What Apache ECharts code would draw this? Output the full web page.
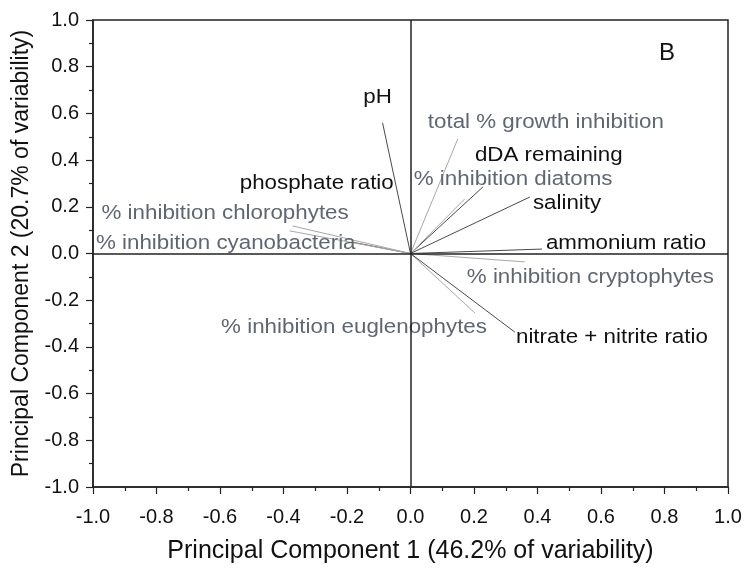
<!DOCTYPE html>
<html>
<head>
<meta charset="utf-8">
<script src="https://cdn.jsdelivr.net/npm/echarts@6/dist/echarts.min.js"></script>
<style>
  html, body { margin: 0; padding: 0; background: #fff; }
  #chart { width: 746px; height: 570px; }
</style>
</head>
<body>
<div id="chart"></div>
<script>
// PCA loading vectors: variable names and their loadings on PC1 / PC2
const variables = [
  'pH',
  'total % growth inhibition',
  'dDA remaining',
  '% inhibition diatoms',
  'salinity',
  'phosphate ratio',
  '% inhibition chlorophytes',
  '% inhibition cyanobacteria',
  'ammonium ratio',
  '% inhibition cryptophytes',
  '% inhibition euglenophytes',
  'nitrate + nitrite ratio'
];
const pc1 = [-0.088, 0.149, 0.228, 0.171, 0.376, -0.185, -0.371, -0.381, 0.414, 0.360, 0.203, 0.329];
const pc2 = [0.560, 0.491, 0.285, 0.234, 0.242, 0.049, 0.118, 0.097, 0.019, -0.036, -0.255, -0.337];
// 'env' = environmental variable (black), 'inh' = inhibition response (grey)
const kind = ['env', 'inh', 'env', 'inh', 'env', 'env', 'inh', 'inh', 'env', 'inh', 'inh', 'env'];

const axisTicks = [-1.0, -0.8, -0.6, -0.4, -0.2, 0.0, 0.2, 0.4, 0.6, 0.8, 1.0];
const xTitle = 'Principal Component 1 (46.2% of variability)';
const yTitle = 'Principal Component 2 (20.7% of variability)';
const panelLetter = 'B';

// label placement relative to each vector tip (pixels), plus text alignment
const labelPlacement = [
  { dx: -5, dy: -25, align: 'center' },
  { dx: -30, dy: -17, align: 'left' },
  { dx: -8, dy: -32, align: 'left' },
  { dx: -51, dy: -20, align: 'left' },
  { dx: 3, dy: 6, align: 'left' },
  { dx: 42, dy: -59, align: 'right' },
  { dx: 56, dy: -13, align: 'right' },
  { dx: 66, dy: 12, align: 'right' },
  { dx: 4, dy: -6, align: 'left' },
  { dx: -58, dy: 15, align: 'left' },
  { dx: 12, dy: 14, align: 'right' },
  { dx: 1, dy: 5, align: 'left' }
];

const FONT = 'Liberation Sans, Arial, sans-serif';
const WIDE = 1.09; // slightly wide lettering
const colors = {
  env: { line: '#4a4a4a', text: '#111111' },
  inh: { line: '#a8a8a8', text: '#5f6673' }
};

const vectorData = variables.map((name, i) => [pc1[i], pc2[i], i]);

const chart = echarts.init(document.getElementById('chart'));

const fmt = v => v.toFixed(1);

chart.setOption({
  animation: false,
  backgroundColor: '#ffffff',
  grid: {
    left: 93, right: 18, top: 20, bottom: 83,
    containLabel: false, outerBoundsMode: 'none',
    show: true, borderColor: '#222', borderWidth: 1.5, backgroundColor: 'transparent'
  },
  xAxis: {
    type: 'value', min: axisTicks[0], max: axisTicks[axisTicks.length - 1], interval: 0.2,
    name: xTitle, nameLocation: 'middle', nameGap: 52,
    nameTextStyle: { fontFamily: FONT, fontSize: 25, color: '#111' },
    axisLine: { show: true, onZero: false, lineStyle: { color: '#222', width: 1.5 } },
    axisTick: { show: true, length: 7, inside: false, lineStyle: { color: '#222', width: 1.2 } },
    minorTick: { show: true, splitNumber: 2, length: 4, lineStyle: { color: '#222', width: 1.2 } },
    axisLabel: { fontFamily: FONT, fontSize: 20, color: '#111', margin: 20, formatter: fmt },
    splitLine: { show: false }
  },
  yAxis: {
    type: 'value', min: axisTicks[0], max: axisTicks[axisTicks.length - 1], interval: 0.2,
    name: yTitle, nameLocation: 'middle', nameGap: 60, nameRotate: 90,
    nameTextStyle: { fontFamily: FONT, fontSize: 23, color: '#111' },
    axisLine: { show: true, onZero: false, lineStyle: { color: '#222', width: 1.5 } },
    axisTick: { show: true, length: 7, inside: false, lineStyle: { color: '#222', width: 1.2 } },
    minorTick: { show: true, splitNumber: 2, length: 4, lineStyle: { color: '#222', width: 1.2 } },
    axisLabel: { fontFamily: FONT, fontSize: 20, color: '#111', margin: 14, formatter: fmt },
    splitLine: { show: false }
  },
  series: [
    {
      // zero cross lines through the origin
      type: 'line',
      data: [],
      silent: true,
      markLine: {
        symbol: 'none', silent: true, label: { show: false },
        lineStyle: { color: '#222', width: 1.5, type: 'solid' },
        data: [{ xAxis: 0 }, { yAxis: 0 }]
      }
    },
    {
      type: 'custom',
      silent: true,
      data: vectorData,
      encode: { x: 0, y: 1 },
      renderItem: function (params, api) {
        const i = api.value(2);
        const o = api.coord([0, 0]);
        const p = api.coord([api.value(0), api.value(1)]);
        const c = colors[kind[i]];
        const lp = labelPlacement[i];
        return {
          type: 'group',
          children: [
            {
              type: 'line',
              shape: { x1: o[0], y1: o[1], x2: p[0], y2: p[1] },
              style: { stroke: c.line, lineWidth: 1 }
            },
            {
              type: 'text',
              x: p[0] + lp.dx, y: p[1] + lp.dy,
              scaleX: WIDE,
              style: {
                text: variables[i], fill: c.text,
                font: '20.5px ' + FONT,
                textAlign: lp.align, textVerticalAlign: 'middle'
              }
            }
          ]
        };
      }
    }
  ],
  graphic: [
    {
      type: 'text', x: 659, y: 53,
      style: { text: panelLetter, font: '24px ' + FONT, fill: '#111', textVerticalAlign: 'middle' }
    }
  ]
});
</script>
</body>
</html>
